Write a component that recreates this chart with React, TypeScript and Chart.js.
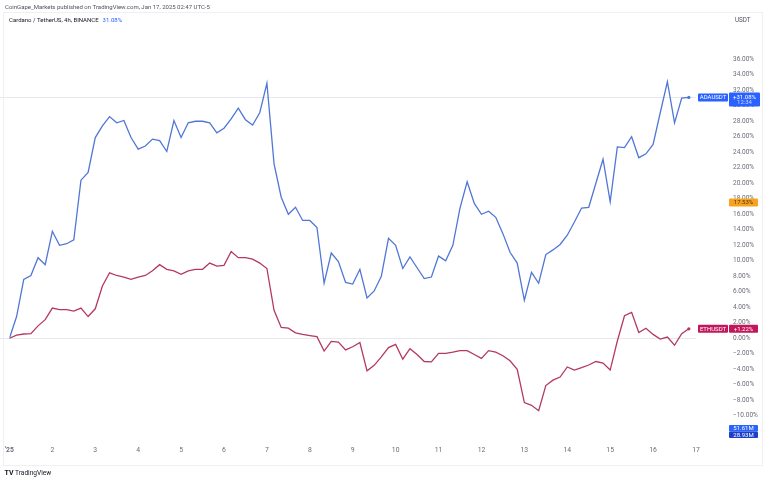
import React, { useEffect, useRef } from 'react';
import { Chart, registerables } from 'chart.js';

Chart.register(...registerables);

// Day labels on the time axis (every 6 bars of 4h)
const dayLabels = ["'25", '2', '3', '4', '5', '6', '7', '8', '9', '10', '11', '12', '13', '14', '15', '16', '17'];

// Cardano / TetherUS, 4h, % change from the first bar
const adaValues = [
  0, 2.8, 7.6, 8.1, 10.4, 9.5, 13.8, 12.0, 12.2, 12.7, 20.4, 21.4, 25.9, 27.4, 28.6, 27.8,
  28.1, 25.9, 24.4, 24.8, 25.7, 25.5, 24.1, 28.1, 25.9, 27.8, 28.0, 28.0, 27.8, 26.5, 27.1, 28.3,
  29.7, 28.2, 27.5, 29.1, 32.9, 22.5, 18.2, 16.0, 16.9, 15.2, 15.2, 14.3, 7.1, 11.0, 9.9, 7.2,
  7.0, 8.9, 5.2, 6.1, 8.0, 12.9, 12.0, 9.0, 10.5, 9.1, 7.7, 7.9, 10.6, 10.0, 12.0, 16.8,
  20.2, 17.4, 16.0, 16.4, 15.6, 13.5, 11.1, 9.7, 4.9, 8.5, 7.1, 10.8, 11.4, 12.1, 13.3, 15.0,
  16.8, 16.9, 20.0, 23.1, 17.6, 24.7, 24.6, 26.0, 23.3, 23.8, 25.0, 29.1, 33.1, 27.8, 31.0, 31.08,
];

// Ethereum / TetherUS, 4h, % change from the first bar
const ethValues = [
  0, 0.4, 0.55, 0.6, 1.6, 2.4, 3.9, 3.7, 3.7, 3.5, 3.9, 2.8, 3.8, 6.75, 8.45, 8.1,
  7.9, 7.6, 7.9, 8.1, 8.7, 9.5, 8.9, 8.7, 8.25, 8.7, 8.9, 8.9, 9.7, 9.3, 9.4, 11.2,
  10.4, 10.4, 10.2, 9.7, 9.0, 3.6, 1.4, 1.3, 0.7, 0.5, 0.35, 0.2, -1.65, -0.4, -0.5, -1.5,
  -1.1, -0.55, -4.2, -3.5, -2.4, -1.2, -0.8, -2.7, -1.35, -2.1, -3.0, -3.05, -1.95, -1.95, -1.8, -1.6,
  -1.6, -2.1, -2.6, -1.6, -1.8, -2.25, -2.9, -4.0, -8.3, -8.65, -9.35, -6.1, -5.4, -5.0, -3.7, -4.1,
  -3.8, -3.45, -3.0, -3.2, -4.1, -0.35, 2.9, 3.35, 0.75, 1.3, 0.5, -0.1, 0.15, -0.9, 0.6, 1.22,
];

const yTickValues = [-10, -8, -6, -4, -2, 0, 2, 4, 6, 8, 10, 12, 14, 16, 18, 20, 22, 24, 26, 28, 30, 32, 34, 36];

const adaLast = 31.08;
const ethLast = 1.22;
const otherLast = 17.53;
const volumeLabels = ['51.61M', '28.93M'];
const barsPerDay = 6;

const FONT = 'Roboto, "Noto Sans", sans-serif';
const ADA_COLOR = '#5076d6';
const ETH_COLOR = '#b33a5e';
const TAG_BLUE = '#2962ff';
const TAG_ETH = '#c2185b';
const TAG_ORANGE = '#f7a320';

const fmtPct = (v: number) => (v < 0 ? '\u2212' : '') + Math.abs(v).toFixed(2) + '%';

const decorPlugin = {
  id: 'tvDecor',
  beforeDatasetsDraw(chart: any) {
    const { ctx, chartArea, scales } = chart;
    const y = scales.y;
    ctx.save();
    ctx.strokeStyle = '#e6e8ee';
    ctx.lineWidth = 1;
    [adaLast, 0].forEach((v) => {
      const py = Math.round(y.getPixelForValue(v)) + 0.5;
      ctx.beginPath();
      ctx.moveTo(0, py);
      ctx.lineTo(chartArea.right, py);
      ctx.stroke();
    });
    ctx.restore();
  },
  afterDraw(chart: any) {
    const { ctx, chartArea, scales } = chart;
    const y = scales.y;
    const x = scales.x;
    ctx.save();

    // panel border
    ctx.strokeStyle = '#eef0f3';
    ctx.lineWidth = 1;
    ctx.strokeRect(3.5, 12.5, 759, 453);

    // header
    ctx.textBaseline = 'middle';
    ctx.textAlign = 'left';
    ctx.font = `6px ${FONT}`;
    ctx.fillStyle = '#50535e';
    ctx.fillText('CoinGape_Markets published on TradingView.com, Jan 17, 2025 02:47 UTC-5', 5, 7);
    ctx.fillStyle = '#131722';
    const title = 'Cardano / TetherUS, 4h, BINANCE';
    ctx.fillText(title, 9, 20);
    const tw = ctx.measureText(title).width;
    ctx.fillStyle = TAG_BLUE;
    ctx.fillText(fmtPct(adaLast), 9 + tw + 4, 20);

    // axis unit
    ctx.fillStyle = '#50535e';
    ctx.font = `6.3px ${FONT}`;
    ctx.fillText('USDT', 735, 20);

    // end dots
    const lastIdx = adaValues.length - 1;
    [[adaValues, ADA_COLOR], [ethValues, ETH_COLOR]].forEach(([arr, col]: any) => {
      ctx.fillStyle = col;
      ctx.beginPath();
      ctx.arc(x.getPixelForValue(lastIdx), y.getPixelForValue(arr[lastIdx]), 1.6, 0, Math.PI * 2);
      ctx.fill();
    });

    const tag = (x0: number, x1: number, y0: number, y1: number, bg: string) => {
      ctx.fillStyle = bg;
      ctx.beginPath();
      (ctx as any).roundRect ? (ctx as any).roundRect(x0, y0, x1 - x0, y1 - y0, 1) : ctx.rect(x0, y0, x1 - x0, y1 - y0);
      ctx.fill();
    };

    ctx.font = `6px ${FONT}`;
    ctx.textAlign = 'center';

    // ADA tags
    const ya = y.getPixelForValue(adaLast);
    tag(698, 728, ya - 4, ya + 4, TAG_BLUE);
    ctx.fillStyle = '#ffffff';
    ctx.fillText('ADAUSDT', 713, ya + 0.3);
    tag(729, 760, ya - 5, ya + 9, TAG_BLUE);
    ctx.fillStyle = '#ffffff';
    ctx.fillText('+' + fmtPct(adaLast), 744.5, ya + 0.3);
    ctx.fillStyle = '#c9d6ff';
    ctx.fillText('12:34', 744.5, ya + 5.6);

    // other symbol tag
    const yo = y.getPixelForValue(otherLast);
    tag(729, 758, yo - 4, yo + 4, TAG_ORANGE);
    ctx.fillStyle = '#5a3300';
    ctx.fillText(fmtPct(otherLast), 743.5, yo + 0.3);

    // ETH tags
    const ye = y.getPixelForValue(ethLast);
    tag(698, 728, ye - 4, ye + 4, TAG_ETH);
    ctx.fillStyle = '#ffffff';
    ctx.fillText('ETHUSDT', 713, ye + 0.3);
    tag(729, 758, ye - 4, ye + 4, TAG_ETH);
    ctx.fillStyle = '#ffffff';
    ctx.fillText('+' + fmtPct(ethLast), 743.5, ye + 0.3);

    // volume tags
    tag(729, 758, chartArea.bottom - 16, chartArea.bottom - 9.5, TAG_BLUE);
    tag(729, 758, chartArea.bottom - 9.5, chartArea.bottom - 3, '#1e40c8');
    ctx.fillStyle = '#ffffff';
    ctx.fillText(volumeLabels[0], 743.5, chartArea.bottom - 12.6);
    ctx.fillText(volumeLabels[1], 743.5, chartArea.bottom - 6.1);

    // bottom separator
    ctx.strokeStyle = '#eef0f3';
    ctx.beginPath();
    ctx.moveTo(3, 465.5);
    ctx.lineTo(762, 465.5);
    ctx.stroke();

    // TradingView logo
    ctx.fillStyle = '#131722';
    ctx.textAlign = 'left';
    ctx.font = `bold 7px ${FONT}`;
    ctx.fillText('TV', 4.5, 473.5);
    ctx.font = `6.6px ${FONT}`;
    ctx.fillText('TradingView', 15, 473.5);

    ctx.restore();
  },
};

export default function App() {
  const canvasRef = useRef<HTMLCanvasElement | null>(null);

  useEffect(() => {
    if (!canvasRef.current) return;
    const xTicks = dayLabels.map((_, i) => i * barsPerDay);
    const chart = new Chart(canvasRef.current, {
      type: 'line',
      data: {
        datasets: [
          {
            label: 'ADAUSDT',
            data: adaValues.map((v, i) => ({ x: i, y: v })),
            borderColor: ADA_COLOR,
            borderWidth: 1.3,
            pointRadius: 0,
            tension: 0,
            fill: false,
          },
          {
            label: 'ETHUSDT',
            data: ethValues.map((v, i) => ({ x: i, y: v })),
            borderColor: ETH_COLOR,
            borderWidth: 1.3,
            pointRadius: 0,
            tension: 0,
            fill: false,
          },
        ],
      },
      options: {
        animation: false,
        responsive: false,
        devicePixelRatio: 1,
        layout: { padding: { left: 6, top: 13, right: 7, bottom: 17 } },
        plugins: { legend: { display: false }, tooltip: { enabled: false } },
        scales: {
          x: {
            type: 'linear',
            min: 0,
            max: (dayLabels.length - 1) * barsPerDay,
            grid: { display: false, drawTicks: false },
            border: { display: false },
            afterBuildTicks: (scale: any) => {
              scale.ticks = xTicks.map((v) => ({ value: v }));
            },
            afterFit: (scale: any) => {
              scale.height = 16;
            },
            ticks: {
              autoSkip: false,
              maxRotation: 0,
              padding: 5,
              color: '#6a6d78',
              font: (c: any) => ({ family: FONT, size: 6.8, weight: c.index === 0 ? 'bold' : 'normal' }),
              callback: (v: any) => dayLabels[Math.round(Number(v) / barsPerDay)] ?? '',
            },
          },
          y: {
            type: 'linear',
            position: 'right',
            min: -13.27,
            max: 38.37,
            grid: { display: false, drawTicks: false },
            border: { display: false },
            afterBuildTicks: (scale: any) => {
              scale.ticks = yTickValues.map((v) => ({ value: v }));
            },
            afterFit: (scale: any) => {
              scale.width = 65;
            },
            ticks: {
              autoSkip: false,
              crossAlign: 'near',
              padding: 37,
              color: '#6a6d78',
              font: { family: FONT, size: 6.5 },
              callback: (v: any) => fmtPct(Number(v)),
            },
          },
        },
      },
      plugins: [decorPlugin],
    } as any);
    return () => chart.destroy();
  }, []);

  return (
    <div style={{ position: 'fixed', left: 0, top: 0, width: 768, height: 482, background: '#ffffff' }}>
      <canvas ref={canvasRef} width={768} height={482} style={{ display: 'block' }} />
    </div>
  );
}
